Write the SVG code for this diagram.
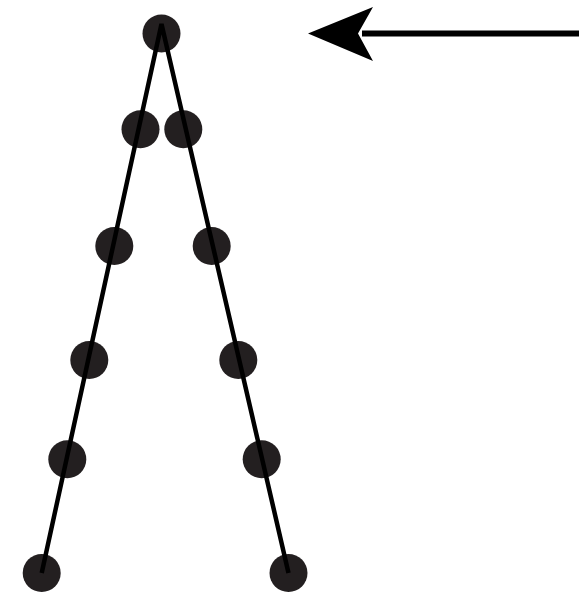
<svg xmlns="http://www.w3.org/2000/svg" width="579" height="593" viewBox="0 0 579 593">
  <style>
    .node { fill: #231f20; }
    .leg { stroke: #000; stroke-width: 4.5; fill: none; stroke-linecap: butt; }
    .arrow { stroke: #000; stroke-width: 6; fill: none; }
  </style>
  <rect width="579" height="593" fill="#fff"/>
  <g id="nodes">
    <g id="n-top"><circle class="node" cx="161.5" cy="33.5" r="19"/></g>
    <g id="n-l1"><circle class="node" cx="140.5" cy="129.3" r="19"/></g>
    <g id="n-l2"><circle class="node" cx="114.3" cy="246" r="19"/></g>
    <g id="n-l3"><circle class="node" cx="89.3" cy="360" r="19"/></g>
    <g id="n-l4"><circle class="node" cx="67.3" cy="459.3" r="19"/></g>
    <g id="n-l5"><circle class="node" cx="41.7" cy="573" r="19"/></g>
    <g id="n-r1"><circle class="node" cx="183.3" cy="129.3" r="19"/></g>
    <g id="n-r2"><circle class="node" cx="211.7" cy="246" r="19"/></g>
    <g id="n-r3"><circle class="node" cx="238.3" cy="360" r="19"/></g>
    <g id="n-r4"><circle class="node" cx="261.7" cy="459.3" r="19"/></g>
    <g id="n-r5"><circle class="node" cx="288.5" cy="573" r="19"/></g>
  </g>
  <g id="connectors">
    <polyline class="leg" points="41.7,573 161.5,24 288.5,573" stroke-linejoin="miter"/>
    <line class="arrow" x1="579" y1="33.5" x2="362" y2="33.5"/>
    <polygon points="308,33.5 373,7 358,33.5 373,61" fill="#000"/>
  </g>
</svg>
